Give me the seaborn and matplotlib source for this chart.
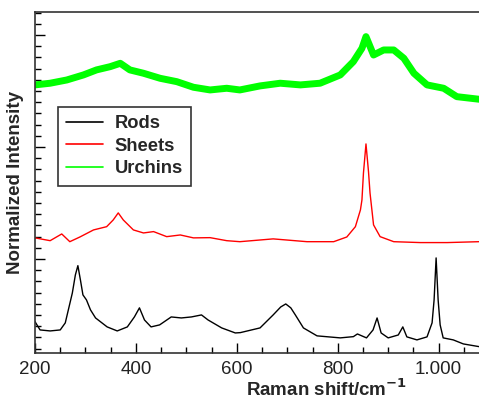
import matplotlib
matplotlib.use("Agg")
import matplotlib.pyplot as plt
import seaborn as sns
import pandas as pd
from matplotlib.ticker import MultipleLocator, NullFormatter

# Raman-Spektren (versetzt gestapelt)
rods_x = [200, 210, 230, 250, 260, 274, 280, 285, 290, 295, 302, 310, 320, 343, 363,
          383, 397, 407, 417, 430, 447, 470, 490, 510, 530, 543, 570, 597, 607, 646,
          672, 687, 697, 707, 716, 732, 759, 805, 831, 839, 857, 870, 878, 886, 900,
          920, 929, 937, 957, 977, 987, 991, 995, 999, 1003, 1009, 1029, 1049, 1080]
rods_y = [0.440, 0.366, 0.357, 0.366, 0.429, 0.696, 0.857, 0.940, 0.813, 0.679, 0.634,
          0.545, 0.473, 0.393, 0.357, 0.393, 0.482, 0.563, 0.455, 0.393, 0.411, 0.482,
          0.473, 0.482, 0.500, 0.455, 0.384, 0.339, 0.342, 0.384, 0.500, 0.571, 0.598,
          0.563, 0.500, 0.384, 0.313, 0.295, 0.306, 0.330, 0.295, 0.366, 0.473, 0.339,
          0.295, 0.321, 0.393, 0.304, 0.277, 0.304, 0.429, 0.634, 1.009, 0.634, 0.411,
          0.295, 0.277, 0.241, 0.217]

sheets_x = [200, 230, 253, 269, 289, 316, 342, 355, 365, 375, 395, 415, 435, 461, 488,
            514, 547, 580, 606, 672, 739, 792, 818, 835, 845, 848, 851, 856, 861, 864,
            871, 884, 911, 964, 1017, 1080]
sheets_y = [1.188, 1.163, 1.223, 1.154, 1.196, 1.259, 1.288, 1.348, 1.411, 1.348, 1.259,
            1.232, 1.244, 1.199, 1.214, 1.188, 1.190, 1.163, 1.154, 1.179, 1.154, 1.154,
            1.196, 1.288, 1.438, 1.527, 1.768, 2.027, 1.779, 1.589, 1.304, 1.199, 1.154,
            1.146, 1.146, 1.154]

urchins_x = [200, 230, 263, 296, 322, 349, 369, 388, 415, 448, 481, 514, 547, 580, 606,
             646, 686, 726, 765, 805, 831, 848, 856, 871, 891, 911, 931, 951, 977, 1010,
             1036, 1080]
urchins_y = [2.554, 2.569, 2.598, 2.643, 2.688, 2.717, 2.747, 2.688, 2.658, 2.613, 2.583,
             2.533, 2.509, 2.524, 2.509, 2.545, 2.569, 2.554, 2.569, 2.643, 2.762, 2.881,
             2.985, 2.821, 2.866, 2.866, 2.792, 2.658, 2.554, 2.524, 2.449, 2.426]

x_ticks = [200, 400, 600, 800, 1000]
x_tick_labels = ["200", "400", "600", "800", "1.000"]

sns.set_theme(style="ticks")
plt.rcParams["font.family"] = ["Liberation Sans", "DejaVu Sans"]

fig = plt.figure(figsize=(4.79, 4.04), dpi=100)
ax = fig.add_axes([35 / 479, 1 - 353 / 404, 444 / 479, 341 / 404])

rods = pd.DataFrame({"x": rods_x, "y": rods_y})
sheets = pd.DataFrame({"x": sheets_x, "y": sheets_y})
urchins = pd.DataFrame({"x": urchins_x, "y": urchins_y})

sns.lineplot(data=rods, x="x", y="y", color="black", lw=1.0, label="Rods", ax=ax, sort=False)
sns.lineplot(data=sheets, x="x", y="y", color="#ff0000", lw=1.0, label="Sheets", ax=ax, sort=False)
sns.lineplot(data=urchins, x="x", y="y", color="#00ff00", lw=5.0, label="Urchins", ax=ax, sort=False)

ax.set_xlim(200, 1080)
ax.set_ylim(0.16, 3.205)
ax.set_xticks(x_ticks)
ax.set_xticklabels(x_tick_labels)
ax.xaxis.set_minor_locator(MultipleLocator(50))
ax.yaxis.set_major_locator(MultipleLocator(1))
ax.yaxis.set_minor_locator(MultipleLocator(0.1))
ax.yaxis.set_major_formatter(NullFormatter())

ax.tick_params(axis="both", which="major", direction="in", length=7, width=1, color="black")
ax.tick_params(axis="both", which="minor", direction="in", length=4, width=1, color="black")
ax.tick_params(axis="x", labelsize=13.5, pad=6, labelcolor="#222222")
ax.tick_params(axis="y", left=True, which="both")

for side in ["left", "bottom", "top"]:
    ax.spines[side].set_color("#333333")
    ax.spines[side].set_linewidth(1.2)
ax.spines["right"].set_visible(False)

ax.set_xlabel("Raman shift/cm$^{\\mathbf{-1}}$", fontsize=13.5, fontweight="bold")
ax.xaxis.set_label_coords((327 - 35) / 444, -0.076)
ax.set_ylabel("Normalized Intensity", fontsize=13.5, fontweight="bold")
ax.yaxis.set_label_coords(-0.024, 0.5)

leg = ax.legend(loc="upper left", bbox_to_anchor=((58 - 35) / 444, (353 - 107) / 341),
                frameon=True, fancybox=False, edgecolor="#333333", framealpha=1,
                prop={"weight": "bold", "size": 13.2}, handlelength=2.0, handletextpad=0.65,
                labelspacing=0.3, borderpad=0.45, borderaxespad=0)
leg.get_frame().set_linewidth(1.2)
for line in leg.get_lines():
    line.set_linewidth(1.2)

fig.savefig("out.png", dpi=100)
